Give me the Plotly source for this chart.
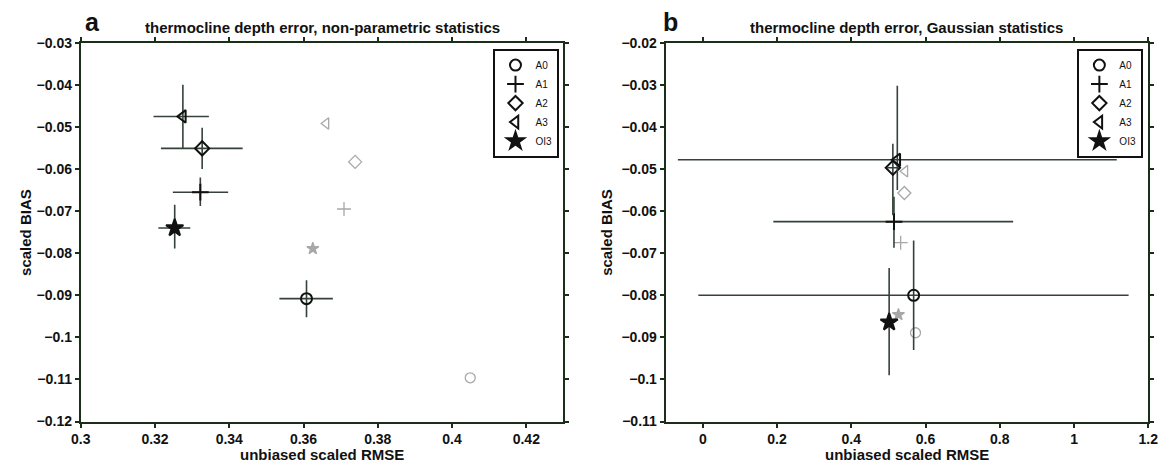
import plotly.graph_objects as go

# ---------------- data ----------------
series = ["A0", "A1", "A2", "A3", "OI3"]
symbols = ["circle-open", "cross-thin-open", "diamond-open", "triangle-left-open", "star"]

# panel a: non-parametric statistics (dark = with error bars, light = without)
a_dark_x = [0.3608, 0.3322, 0.3327, 0.3275, 0.3253]
a_dark_y = [-0.0908, -0.0655, -0.0551, -0.0475, -0.0740]
a_x_lo = [0.3535, 0.3248, 0.3216, 0.3196, 0.3209]
a_x_hi = [0.3679, 0.3397, 0.3436, 0.3345, 0.3295]
a_y_lo = [-0.0952, -0.0688, -0.0600, -0.0550, -0.0789]
a_y_hi = [-0.0864, -0.0620, -0.0502, -0.0400, -0.0685]
a_light_x = [0.4049, 0.3709, 0.3739, 0.3661, 0.3625]
a_light_y = [-0.1096, -0.0695, -0.0583, -0.0492, -0.0789]

# panel b: Gaussian statistics
b_dark_x = [0.568, 0.515, 0.512, 0.524, 0.502]
b_dark_y = [-0.0800, -0.0625, -0.0497, -0.0478, -0.0864]
b_x_lo = [-0.012, 0.190, 0.497, -0.067, 0.490]
b_x_hi = [1.147, 0.836, 0.527, 1.115, 0.515]
b_y_lo = [-0.0930, -0.0687, -0.0610, -0.0550, -0.0990]
b_y_hi = [-0.0670, -0.0566, -0.0440, -0.0302, -0.0735]
b_light_x = [0.573, 0.533, 0.543, 0.545, 0.527]
b_light_y = [-0.0889, -0.0675, -0.0557, -0.0505, -0.0846]

titles = ["thermocline depth error, non-parametric statistics",
          "thermocline depth error, Gaussian statistics"]
panel_letters = ["a", "b"]
x_title = "unbiased scaled RMSE"
y_title = "scaled BIAS"

# ---------------- styling ----------------
DARK = "#111111"
LIGHT = "#a8a8a8"
BAR = "#34423a"
FRAME = "#1a2e1a"
FONT = "Liberation Sans"
dark_sizes = [11, 12, 11, 11, 13]
light_sizes = [10, 10, 10, 10, 9]

fig = go.Figure()

def add_panel(xs, ys, xlo, xhi, ylo, yhi, lx, ly, xa, ya, legend):
    for i, name in enumerate(series):
        fig.add_trace(go.Scatter(
            x=[lx[i]], y=[ly[i]], mode="markers", xaxis=xa, yaxis=ya,
            showlegend=False, hoverinfo="skip",
            marker=dict(symbol=symbols[i], size=light_sizes[i], color=LIGHT,
                        line=dict(color=LIGHT, width=1.3))))
    for i, name in enumerate(series):
        fig.add_trace(go.Scatter(
            x=[xs[i]], y=[ys[i]], mode="markers", xaxis=xa, yaxis=ya,
            name=name, legend=legend,
            error_x=dict(type="data", symmetric=False,
                         array=[xhi[i] - xs[i]], arrayminus=[xs[i] - xlo[i]],
                         color=BAR, thickness=1.6, width=0),
            error_y=dict(type="data", symmetric=False,
                         array=[yhi[i] - ys[i]], arrayminus=[ys[i] - ylo[i]],
                         color=BAR, thickness=1.6, width=0),
            marker=dict(symbol=symbols[i], size=dark_sizes[i], color=DARK,
                        line=dict(color=DARK, width=2))))

add_panel(a_dark_x, a_dark_y, a_x_lo, a_x_hi, a_y_lo, a_y_hi,
          a_light_x, a_light_y, "x", "y", "legend")
add_panel(b_dark_x, b_dark_y, b_x_lo, b_x_hi, b_y_lo, b_y_hi,
          b_light_x, b_light_y, "x2", "y2", "legend2")

W, H = 1175, 474

def px(x):
    return x / W

def py(y):
    return (H - y) / H

top_px, bot_px = 36, 428
ydom = [py(bot_px), py(top_px)]
xdom1 = [px(72), px(563)]
xdom2 = [px(667), px(1158)]

axis_common = dict(showline=True, linecolor=FRAME, linewidth=2, mirror="ticks",
                   ticks="outside", ticklen=4, tickwidth=1.5, tickcolor=FRAME,
                   showgrid=False, zeroline=False,
                   tickfont=dict(family=FONT, size=14, color="#111111", weight="bold"))

legend_common = dict(bgcolor="white", bordercolor="#111111", borderwidth=2,
                     font=dict(family=FONT, size=10, color="#111111"),
                     xanchor="right", yanchor="top", tracegroupgap=0,
                     itemwidth=30)

fig.update_layout(
    width=W, height=H, margin=dict(l=0, r=0, t=0, b=0),
    paper_bgcolor="white", plot_bgcolor="white",
    xaxis=dict(domain=xdom1, range=[0.3, 0.43], dtick=0.02, tick0=0.3,
               anchor="y", **axis_common),
    yaxis=dict(domain=ydom, range=[-0.12, -0.03], dtick=0.01, tick0=-0.12,
               anchor="x", **axis_common),
    xaxis2=dict(domain=xdom2, range=[-0.1, 1.2], dtick=0.2, tick0=0,
                anchor="y2", **axis_common),
    yaxis2=dict(domain=ydom, range=[-0.11, -0.02], dtick=0.01, tick0=-0.11,
                anchor="x2", **axis_common),
    legend=dict(x=px(559), y=py(42), **legend_common),
    legend2=dict(x=px(1153), y=py(42), **legend_common),
    showlegend=True,
)

annotations = []
letter_dx = [12, 5]
ytitle_dx = [57, 60]
for k, (xd, t, letter) in enumerate(zip([xdom1, xdom2], titles, panel_letters)):
    cx = (xd[0] + xd[1]) / 2
    annotations.append(dict(text=t, x=cx, y=py(20), xref="paper", yref="paper",
                            showarrow=False, xanchor="center", yanchor="middle",
                            font=dict(family=FONT, size=15, color="#111111", weight="bold")))
    annotations.append(dict(text=letter, x=xd[0] + px(letter_dx[k]), y=py(14), xref="paper", yref="paper",
                            showarrow=False, xanchor="center", yanchor="middle",
                            font=dict(family=FONT, size=25, color="#111111", weight="bold")))
    annotations.append(dict(text=x_title, x=cx, y=py(462), xref="paper", yref="paper",
                            showarrow=False, xanchor="center", yanchor="middle",
                            font=dict(family=FONT, size=15, color="#111111", weight="bold")))
    annotations.append(dict(text=y_title, x=xd[0] - px(ytitle_dx[k]), y=(ydom[0] + ydom[1]) / 2,
                            xref="paper", yref="paper", textangle=-90,
                            showarrow=False, xanchor="center", yanchor="middle",
                            font=dict(family=FONT, size=15, color="#111111", weight="bold")))
fig.update_layout(annotations=annotations)

fig.write_html("out.html", config={"displayModeBar": False},
               post_script="document.body.style.margin='0';")
